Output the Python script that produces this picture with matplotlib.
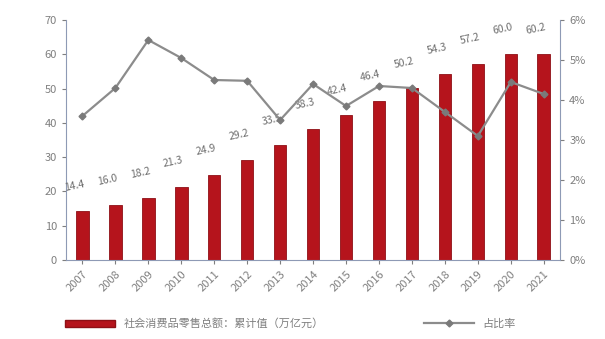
import matplotlib
matplotlib.use("Agg")
import matplotlib.pyplot as plt
from matplotlib.lines import Line2D
from matplotlib.patches import Patch
import numpy as np

plt.rcParams['font.family'] = ['Noto Sans CJK SC', 'DejaVu Sans']

years = ["2007", "2008", "2009", "2010", "2011", "2012", "2013", "2014",
         "2015", "2016", "2017", "2018", "2019", "2020", "2021"]
totals = [14.4, 16.0, 18.2, 21.3, 24.9, 29.2, 33.5, 38.3,
          42.4, 46.4, 50.2, 54.3, 57.2, 60.0, 60.2]
ratio = [3.6, 4.3, 5.5, 5.05, 4.5, 4.48, 3.5, 4.4,
         3.85, 4.35, 4.3, 3.7, 3.1, 4.45, 4.15]
left_ticks = [0, 10, 20, 30, 40, 50, 60, 70]
right_ticks = [0, 1, 2, 3, 4, 5, 6]
bar_label = "社会消费品零售总额：累计值（万亿元）"
line_label = "占比率"

bar_color = "#B5141C"
line_color = "#8C8C8C"
text_color = "#7F7F7F"
spine_color = "#8E9AB5"

fig = plt.figure(figsize=(6.05, 3.39), dpi=100)
ax = fig.add_axes([0.109, 0.233, 0.817, 0.708])
ax2 = ax.twinx()

x = np.arange(len(years))
ax.bar(x, totals, width=0.38, color=bar_color, edgecolor="#8E1016", linewidth=0.6, zorder=2)
ax.set_xlim(-0.5, len(years) - 0.5)
ax.set_ylim(0, 70)
ax.set_yticks(left_ticks)
ax.set_yticklabels([str(t) for t in left_ticks])
ax.set_xticks(x)
ax.set_xticklabels(years, rotation=45, ha="right", rotation_mode="anchor")

for xi, v in zip(x, totals):
    ax.annotate(f"{v:.1f}", (xi, v), xytext=(-6, 13), textcoords="offset points",
                ha="center", va="bottom", fontsize=7.5, color="#6E6E6E",
                rotation=12, zorder=5)

ax2.plot(x, ratio, color=line_color, linewidth=1.6, marker="D", markersize=3.5,
         markerfacecolor="#7A7A7A", markeredgecolor="#7A7A7A", zorder=4)
ax2.set_ylim(0, 6)
ax2.set_yticks(right_ticks)
ax2.set_yticklabels([f"{t}%" for t in right_ticks])

for a in (ax, ax2):
    for s in ("top",):
        a.spines[s].set_visible(False)
    a.tick_params(colors=text_color, labelsize=8, length=3, width=0.8)
ax.spines["right"].set_visible(False)
ax.spines["left"].set_color(spine_color)
ax.spines["bottom"].set_color(spine_color)
ax2.spines["left"].set_visible(False)
ax2.spines["bottom"].set_visible(False)
ax2.spines["right"].set_color(spine_color)
ax.tick_params(axis="x", length=3)

handles = [Patch(facecolor=bar_color, edgecolor="#8E1016"),
           Line2D([0], [0], color=line_color, linewidth=1.6, marker="D",
                  markersize=3.5, markerfacecolor="#7A7A7A", markeredgecolor="#7A7A7A")]
leg = fig.legend(handles, [bar_label, line_label], loc="lower center",
                 bbox_to_anchor=(0.48, 0.0), ncol=2, frameon=False, fontsize=8,
                 columnspacing=9, handlelength=4.5, handleheight=0.6)
for t in leg.get_texts():
    t.set_color(text_color)

fig.savefig("out.png", dpi=100)
